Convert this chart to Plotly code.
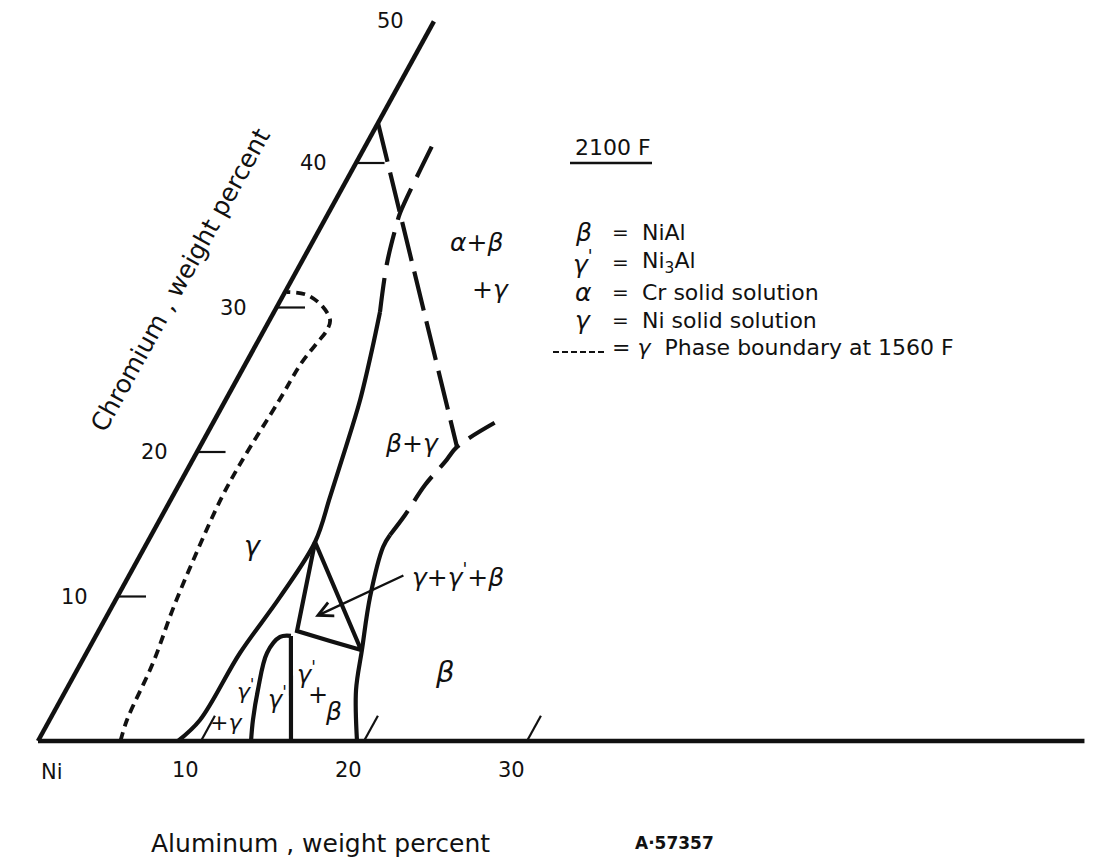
import numpy as np
import plotly.graph_objects as go

# ---------------- data (Al wt%, Cr wt%) ----------------
al_ticks = [10, 20, 30]
al_tick_labels = ["10", "20", "30"]
cr_ticks = [10, 20, 30, 40]
cr_tick_labels = ["10", "20", "30", "40"]
cr_top = 49.8           # end of the Ni-Cr side (labelled 50)
al_end = 64.2           # end of the Ni-Al side

# gamma phase boundary at 1560 F (short dashes)
g1560_al = [5.06, 4.75, 4.42, 3.8, 3.35, 3.05, 3.05, 3.3, 3.4, 3.68, 3.86, 3.71, 2.84, 1.45, 0.1]
g1560_cr = [0, 1.45, 5.4, 9.27, 13.22, 16.89, 19.24, 23.6, 26.16, 27.54, 28.44, 29.13, 30.03, 30.87, 31.07]

# gamma / (gamma+gamma') and gamma / (beta+gamma) boundary, solid
gam_al = [8.59, 9.23, 9.42, 9.99, 10.28, 9.68, 9.01, 8.25, 7.29, 6.5]
gam_cr = [0, 1.45, 6.09, 9.97, 13.77, 16.89, 20.14, 23.6, 27.06, 29.69]
# its dashed continuation
gam_ext_al = [6.5, 5.28, 4.54, 4.39, 4.07]
gam_ext_cr = [29.69, 33.08, 35.85, 36.54, 41.59]

# tie line of the alpha+beta+gamma field (long dashes)
tie_al = [0, 15.78]
tie_cr = [42.77, 20.35]

# beta boundary, solid part
beta_al = [19.57, 17.79, 16.8, 15.51, 14.62, 14.64]
beta_cr = [0, 3.53, 6.3, 9.97, 13.43, 14.26]
# beta boundary, dashed part
beta_ext_al = [14.64, 14.89, 15.1, 15.55, 15.78, 17.63]
beta_ext_cr = [14.26, 15.64, 17.72, 19.31, 20.35, 22.35]

# gamma' field: curved left side and straight right side
gp_al = [13.07, 12.48, 11.77, 11.08, 11.34, 11.97]
gp_cr = [0, 1.45, 3.53, 6.09, 7.2, 7.27]
gpv_al = [11.97, 15.52]
gpv_cr = [7.27, 0]

# gamma + gamma' + beta tie triangle
tri_al = [10.28, 12.18, 14.54, 16.75, 10.28]
tri_cr = [13.77, 7.61, 6.92, 6.3, 13.77]

# arrow pointing into the tie triangle (head, tail)
arrow_head = (12.8, 8.6)
arrow_tail = (16.9, 11.5)

# ---------------- drawing geometry (style / layout) ----------------
W, H = 1101, 862
X0, Y0 = 38.0, 741.0          # pixel of the Ni corner
PX_AL = 16.3                  # px per wt% Al (horizontal)
PX_CRX, PX_CRY = 7.95, 14.45  # px per wt% Cr along the slanted side
TICK_LEN_AL = 1.75            # tick lengths, in wt%
TICK_LEN_CR = 1.75
LW = 4.2
INK = "#111111"
FONT = "DejaVu Sans"


def tx(al, cr):
    return np.asarray(al, float) + np.asarray(cr, float) * PX_CRX / PX_AL


def ty(cr):
    return np.asarray(cr, float) * PX_CRY / PX_AL


def px(x, y):
    """pixel -> paper coordinates, for text placement"""
    return x / W, 1 - y / H


fig = go.Figure()


def line(al, cr, width=LW, dash="solid", shape="linear"):
    fig.add_trace(go.Scatter(x=tx(al, cr), y=ty(cr), mode="lines",
                             line=dict(color=INK, width=width, dash=dash, shape=shape),
                             hoverinfo="skip", showlegend=False))


# frame of the diagram
line([0, 0], [0, cr_top], width=4.5)
line([0, al_end], [0, 0], width=4.5)

# ticks
for a in al_ticks:
    line([a, a], [0, TICK_LEN_AL], width=2.2)
for c in cr_ticks:
    line([0, TICK_LEN_CR], [c, c], width=2.2)

# phase boundaries
line(g1560_al, g1560_cr, width=3.8, dash="9px,6px", shape="spline")
line(gam_al, gam_cr, shape="spline")
line(gam_ext_al, gam_ext_cr, dash="34px,13px", shape="spline")
line(tie_al, tie_cr, dash="40px,11px")
line(beta_al, beta_cr, shape="spline")
line(beta_ext_al, beta_ext_cr, dash="30px,12px", shape="spline")
line(gp_al, gp_cr, shape="spline")
line(gpv_al, gpv_cr)
line(tri_al, tri_cr)

ann = []


def text(t, x, y, size=22, angle=0, xanchor="center", family=FONT):
    xp, yp = px(x, y)
    ann.append(dict(text=t, x=xp, y=yp, xref="paper", yref="paper", showarrow=False,
                    xanchor=xanchor, yanchor="middle", textangle=angle,
                    font=dict(family=family, size=size, color=INK)))


# tick labels tied to the axes
for a, lab in zip(al_ticks, al_tick_labels):
    ann.append(dict(text=lab, x=float(tx(a, 0)), y=0, xref="x", yref="y", showarrow=False,
                    xshift=-16, yshift=-29, font=dict(family=FONT, size=21, color=INK)))
for c, lab in zip(cr_ticks + [50], cr_tick_labels + ["50"]):
    cc = min(c, cr_top)
    ann.append(dict(text=lab, x=float(tx(0, cc)), y=float(ty(cc)), xref="x", yref="y",
                    showarrow=False, xshift=-43, yshift=0,
                    font=dict(family=FONT, size=21, color=INK)))

text("Ni", 52, 772, 21)
text("Aluminum , weight percent", 320, 843, 25)
text("<b>A·57357</b>", 674, 843, 17)
text("Chromium , weight percent", 181, 280, 25, angle=-61)

# field labels
text("<i>γ</i>", 253, 545, 27)
text("<i>β</i>+<i>γ</i>", 412, 443, 25)
text("<i>α</i>+<i>β</i>", 476, 242, 25)
text("+<i>γ</i>", 490, 290, 25)
text("<i>γ</i>+<i>γ</i><sup>'</sup>+<i>β</i>", 458, 575, 25)
text("<i>β</i>", 445, 672, 29)
text("<i>γ</i><sup>'</sup>", 306, 673, 24)
text("+", 318, 695, 24)
text("<i>β</i>", 333, 711, 25)
text("<i>γ</i><sup>'</sup>", 277, 698, 24)
text("<i>γ</i><sup>'</sup>", 245, 690, 22)
text("+<i>γ</i>", 226, 722, 22)

# arrow to the tie triangle
ann.append(dict(x=float(tx(*arrow_head)), y=float(ty(arrow_head[1])), xref="x", yref="y",
                ax=float(tx(*arrow_tail)), ay=float(ty(arrow_tail[1])), axref="x", ayref="y",
                text="", showarrow=True, arrowhead=5, arrowsize=1.2, arrowwidth=2.4,
                arrowcolor=INK))

# key
text("2100 F", 573, 147, 22, xanchor="left")
text("<i>β</i>", 583, 232, 25)
text("=", 620, 232, 20)
text("NiAl", 640, 232, 22, xanchor="left")
text("<i>γ</i><sup>'</sup>", 583, 262, 25)
text("=", 620, 262, 20)
text("Ni<sub>3</sub>Al", 640, 262, 22, xanchor="left")
text("<i>α</i>", 583, 292, 25)
text("=", 620, 292, 20)
text("Cr solid solution", 640, 292, 22, xanchor="left")
text("<i>γ</i>", 583, 320, 25)
text("=", 620, 320, 20)
text("Ni solid solution", 640, 320, 22, xanchor="left")
text("= <i>γ</i>  Phase boundary at 1560 F", 610, 347, 22, xanchor="left")

shapes = [
    dict(type="line", xref="paper", yref="paper", x0=570 / W, x1=652 / W,
         y0=1 - 163 / H, y1=1 - 163 / H, line=dict(color=INK, width=2.5)),
    dict(type="line", xref="paper", yref="paper", x0=553 / W, x1=607 / W,
         y0=1 - 352 / H, y1=1 - 352 / H, line=dict(color=INK, width=2, dash="6px,3px")),
]

fig.update_layout(
    width=W, height=H, margin=dict(l=0, r=0, t=0, b=0),
    paper_bgcolor="white", plot_bgcolor="white",
    xaxis=dict(range=[-X0 / PX_AL, (W - X0) / PX_AL], visible=False, fixedrange=True),
    yaxis=dict(range=[-(H - Y0) / PX_AL, Y0 / PX_AL], visible=False, fixedrange=True),
    annotations=ann, shapes=shapes, showlegend=False,
)

fig.write_html("out.html")
